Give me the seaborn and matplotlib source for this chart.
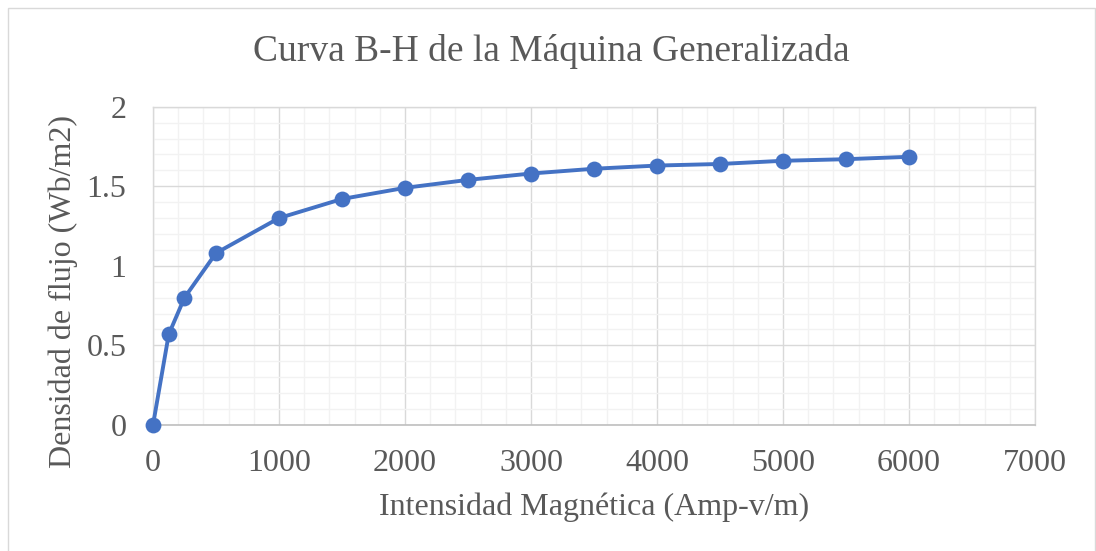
import matplotlib
matplotlib.use("Agg")
import matplotlib.pyplot as plt
from matplotlib.ticker import MultipleLocator
from matplotlib.patches import Rectangle
import seaborn as sns
import pandas as pd

# B-H curve data
H = [0, 125, 250, 500, 1000, 1500, 2000, 2500, 3000, 3500, 4000, 4500, 5000, 5500, 6000]
B = [0, 0.57, 0.80, 1.08, 1.30, 1.42, 1.49, 1.54, 1.58, 1.61, 1.63, 1.64, 1.66, 1.67, 1.685]

title = "Curva B-H de la Máquina Generalizada"
xlabel = "Intensidad Magnética (Amp-v/m)"
ylabel = "Densidad de flujo (Wb/m2)"

df = pd.DataFrame({"H": H, "B": B})

sns.set_style("white")
plt.rcParams["font.family"] = ["Liberation Serif", "DejaVu Serif"]

blue = "#4472C4"
text_col = "#595959"

fig = plt.figure(figsize=(10.96, 5.51), dpi=100)
ax = fig.add_axes([0.1396, 0.2287, 0.8047, 0.5777])

sns.lineplot(data=df, x="H", y="B", ax=ax, color=blue, linewidth=2.8, sort=False, zorder=3)
sns.scatterplot(data=df, x="H", y="B", ax=ax, color=blue, s=130, edgecolor=blue, linewidth=0, zorder=4)
for c in ax.collections:
    c.set_clip_on(False)
for l in ax.lines:
    l.set_clip_on(False)

ax.set_xlim(0, 7000)
ax.set_ylim(0, 2)
ax.xaxis.set_major_locator(MultipleLocator(1000))
ax.xaxis.set_minor_locator(MultipleLocator(200))
ax.yaxis.set_major_locator(MultipleLocator(0.5))
ax.yaxis.set_minor_locator(MultipleLocator(0.1))
ax.set_yticks([0, 0.5, 1, 1.5, 2])
ax.set_yticklabels(["0", "0.5", "1", "1.5", "2"])

ax.grid(which="major", color="#D9D9D9", linewidth=1.0, zorder=0)
ax.grid(which="minor", color="#F2F2F2", linewidth=1.0, zorder=0)
ax.set_axisbelow(True)

for side in ["top", "right", "left"]:
    ax.spines[side].set_color("#D9D9D9")
    ax.spines[side].set_linewidth(1.0)
ax.spines["bottom"].set_color("#BFBFBF")
ax.spines["bottom"].set_linewidth(1.2)

ax.tick_params(which="both", length=0, labelsize=23, labelcolor=text_col)
ax.tick_params(axis="x", pad=17)
ax.tick_params(axis="y", pad=19)

ax.set_xlabel(xlabel, fontsize=23, color=text_col)
ax.set_ylabel(ylabel, fontsize=23, color=text_col)
ax.xaxis.label.set_va("center")
ax.yaxis.label.set_va("center")
ax.xaxis.set_label_coords(0.5, -0.258)
ax.yaxis.set_label_coords(-0.102, 0.418)

fig.text(0.503, 0.906, title, fontsize=27, color=text_col, ha="center", va="center")

fig.patches.append(Rectangle((0.007, -0.01), 0.9925, 0.995, transform=fig.transFigure,
                             fill=False, edgecolor="#D9D9D9", linewidth=1.0))

fig.savefig("out.png", dpi=100)
